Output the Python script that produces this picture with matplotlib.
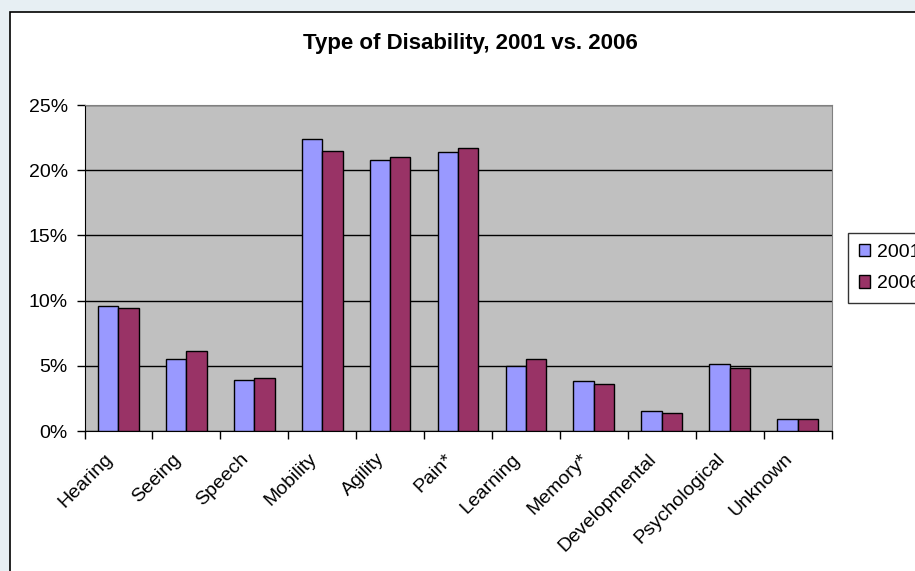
import matplotlib
matplotlib.use("Agg")
import matplotlib.pyplot as plt
from matplotlib.patches import Rectangle
from matplotlib.ticker import FuncFormatter
from matplotlib.transforms import ScaledTranslation
import numpy as np

plt.rcParams['font.family'] = ['Liberation Sans', 'DejaVu Sans']

categories = ['Hearing', 'Seeing', 'Speech', 'Mobility', 'Agility', 'Pain*',
              'Learning', 'Memory*', 'Developmental', 'Psychological', 'Unknown']
values_2001 = [9.6, 5.5, 3.9, 22.4, 20.8, 21.4, 5.0, 3.8, 1.5, 5.1, 0.9]
values_2006 = [9.4, 6.1, 4.1, 21.5, 21.0, 21.7, 5.5, 3.6, 1.4, 4.8, 0.9]
series_names = ['2001', '2006']
yticks = [0, 5, 10, 15, 20, 25]

W, H = 915, 571
fig = plt.figure(figsize=(W / 100, H / 100), dpi=100)
fig.patch.set_facecolor('#e7eff3')

# white chart area with black frame, running off the right/bottom edge
fig.add_artist(Rectangle((10 / W, -0.1), 1.2, 1 - 12 / H + 0.1,
                         transform=fig.transFigure, facecolor='white',
                         edgecolor='black', linewidth=1.2, zorder=0))

ax = fig.add_axes([84.5 / W, 1 - 431 / H, (831.5 - 84.5) / W, (431 - 105) / H])
ax.set_facecolor('#c0c0c0')

x = np.arange(len(categories))
bw = 0.3
ax.bar(x - bw / 2, values_2001, bw, color='#9999ff', edgecolor='black',
       linewidth=1, label=series_names[0], zorder=3)
ax.bar(x + bw / 2, values_2006, bw, color='#993366', edgecolor='black',
       linewidth=1, label=series_names[1], zorder=3)

ax.set_xlim(-0.5, len(categories) - 0.5)
ax.set_ylim(0, 25)
ax.set_yticks(yticks)
ax.yaxis.set_major_formatter(FuncFormatter(lambda v, p: f'{v:.0f}%'))
ax.yaxis.grid(True, color='black', linewidth=1, zorder=1)
ax.set_axisbelow(True)

ax.set_xticks(np.arange(len(categories) + 1) - 0.5)
ax.set_xticklabels([])
ax.set_xticks(x, minor=True)
ax.set_xticklabels(categories, minor=True, rotation=45, ha='right',
                   rotation_mode='anchor', fontsize=14)
ax.tick_params(axis='x', which='minor', length=0, pad=14)
ax.tick_params(axis='x', which='major', length=6, width=1, direction='out')
ax.tick_params(axis='y', length=6, width=1, direction='out', labelsize=14, pad=6)

# nudge rotated category labels left, like the Excel layout
shift = ScaledTranslation(-14 / 100, 0, fig.dpi_scale_trans)
for lab in ax.get_xticklabels(minor=True):
    lab.set_transform(lab.get_transform() + shift)

for side in ['top', 'right']:
    ax.spines[side].set_color('#808080')
for side in ['left', 'bottom']:
    ax.spines[side].set_color('black')

fig.text(470 / W, 1 - 43 / H, 'Type of Disability, 2001 vs. 2006',
         ha='center', va='center', fontsize=16, fontweight='bold')

leg = fig.legend(loc='center left', bbox_to_anchor=(848 / W, 1 - 268 / H),
                 fontsize=14, frameon=True, fancybox=False, edgecolor='black',
                 handlelength=0.6, handleheight=0.6, handletextpad=0.35,
                 borderpad=0.55, labelspacing=0.75, borderaxespad=0)
leg.get_frame().set_linewidth(1)

fig.savefig('out.png', dpi=100)
